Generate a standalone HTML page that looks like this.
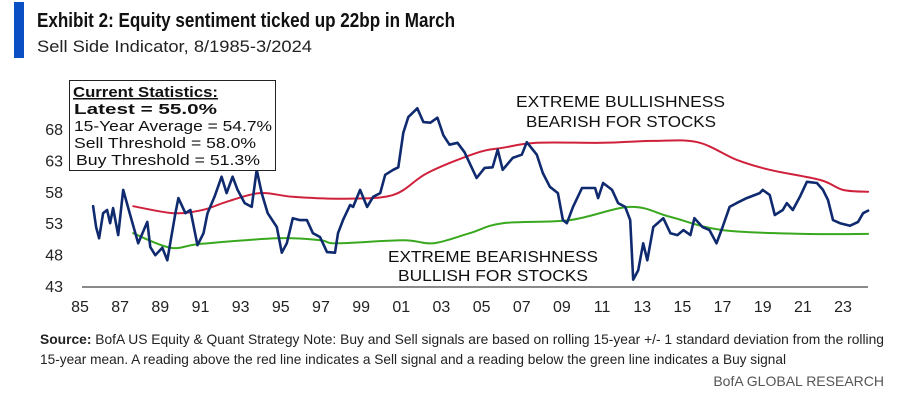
<!DOCTYPE html>
<html><head><meta charset="utf-8"><style>
html,body{margin:0;padding:0;background:#fff;width:914px;height:403px;overflow:hidden}
svg{display:block;font-family:"Liberation Sans Narrow","Liberation Sans",sans-serif}
</style></head><body>
<svg id="chart" width="914" height="403" viewBox="0 0 914 403">
<rect x="14" y="2" width="10" height="56" fill="#0a4fc4"/>
<text x="37" y="27" font-size="20" font-weight="bold" fill="#111" textLength="418" lengthAdjust="spacingAndGlyphs">Exhibit 2: Equity sentiment ticked up 22bp in March</text>
<text x="37" y="52" font-size="17" fill="#222" textLength="275" lengthAdjust="spacingAndGlyphs">Sell Side Indicator, 8/1985-3/2024</text>
<g id="yaxis"></g>
<g id="xaxis"></g>
<g id="series"></g>
<g>
<rect x="69.5" y="80.5" width="206" height="90" fill="#fff" stroke="#222" stroke-width="1"/>
<text x="73" y="97" font-size="15" font-weight="bold" fill="#111" text-decoration="underline" textLength="145" lengthAdjust="spacingAndGlyphs">Current Statistics:</text>
<text x="74" y="114" font-size="15" font-weight="bold" fill="#111" textLength="143" lengthAdjust="spacingAndGlyphs">Latest = 55.0%</text>
<text x="74" y="131" font-size="15" fill="#111" textLength="198" lengthAdjust="spacingAndGlyphs">15-Year Average = 54.7%</text>
<text x="74" y="148" font-size="15" fill="#111" textLength="182" lengthAdjust="spacingAndGlyphs">Sell Threshold = 58.0%</text>
<text x="76" y="165" font-size="15" fill="#111" textLength="184" lengthAdjust="spacingAndGlyphs">Buy Threshold = 51.3%</text>
</g>
<text x="516" y="107" font-size="16" fill="#111" textLength="209" lengthAdjust="spacingAndGlyphs">EXTREME BULLISHNESS</text>
<text x="526" y="127" font-size="16" fill="#111" textLength="190" lengthAdjust="spacingAndGlyphs">BEARISH FOR STOCKS</text>
<text x="388" y="262" font-size="16" fill="#111" textLength="210" lengthAdjust="spacingAndGlyphs">EXTREME BEARISHNESS</text>
<text x="398" y="281" font-size="16" fill="#111" textLength="190" lengthAdjust="spacingAndGlyphs">BULLISH FOR STOCKS</text>
<text x="40" y="344" font-size="14" fill="#222" textLength="844" lengthAdjust="spacingAndGlyphs"><tspan font-weight="bold">Source:</tspan> BofA US Equity &amp; Quant Strategy Note: Buy and Sell signals are based on rolling 15-year +/- 1 standard deviation from the rolling</text>
<text x="40" y="364" font-size="14" fill="#222" textLength="746" lengthAdjust="spacingAndGlyphs">15-year mean. A reading above the red line indicates a Sell signal and a reading below the green line indicates a Buy signal</text>
<text x="884" y="386" font-size="14" fill="#555" text-anchor="end">BofA GLOBAL RESEARCH</text>
</svg>
<script>
const yTicks = [43, 48, 53, 58, 63, 68];
const xTickLabels = ["85","87","89","91","93","95","97","99","01","03","05","07","09","11","13","15","17","19","21","23"];
const xTickYears = [1985,1987,1989,1991,1993,1995,1997,1999,2001,2003,2005,2007,2009,2011,2013,2015,2017,2019,2021,2023];
const sentimentYears = [1985.65,1985.8,1985.95,1986.15,1986.35,1986.5,1986.65,1986.9,1987.15,1987.5,1987.9,1988.35,1988.5,1988.75,1989.1,1989.35,1989.75,1989.9,1990.25,1990.5,1990.85,1991.15,1991.35,1991.7,1992.05,1992.3,1992.6,1992.85,1993.2,1993.55,1993.8,1994.05,1994.35,1994.8,1995.05,1995.3,1995.6,1995.95,1996.3,1996.6,1996.95,1997.3,1997.7,1997.85,1998.1,1998.45,1998.6,1998.95,1999.3,1999.6,1999.95,2000.2,2000.6,2000.85,2001.1,2001.35,2001.8,2002.1,2002.45,2002.8,2003.1,2003.4,2003.8,2004.15,2004.5,2004.75,2005.15,2005.55,2005.8,2006.05,2006.55,2007.0,2007.25,2007.75,2008.05,2008.4,2008.8,2009.05,2009.25,2009.55,2010.0,2010.65,2010.8,2011.05,2011.5,2011.8,2012.15,2012.4,2012.55,2012.8,2013.05,2013.25,2013.55,2014.05,2014.4,2014.75,2015.05,2015.4,2015.6,2016.0,2016.35,2016.7,2017.0,2017.35,2017.7,2018.2,2018.85,2019.0,2019.35,2019.6,2020.0,2020.2,2020.5,2020.85,2021.2,2021.7,2022.0,2022.25,2022.5,2022.85,2023.35,2023.75,2024.0,2024.25];
const sentimentValues = [55.7,52.4,50.6,54.6,55.1,53.0,55.4,51.1,58.3,54.3,49.8,53.2,49.2,47.9,49.1,47.1,54.6,57.0,54.6,55.1,49.5,51.4,54.6,57.2,60.4,57.8,60.4,58.3,56.2,55.6,61.5,57.8,54.6,52.4,48.3,49.8,53.8,53.5,53.5,51.4,50.8,48.4,48.3,51.4,53.5,55.9,55.6,58.3,55.6,57.2,57.8,60.7,61.5,61.9,67.4,69.9,71.3,69.1,69.0,69.8,67.0,65.5,65.8,64.3,61.9,60.2,61.8,61.9,64.7,61.5,63.4,63.9,65.9,63.9,61.0,58.8,57.8,53.5,53.0,55.6,58.6,58.6,57.0,59.4,58.3,56.2,55.6,53.5,44.0,45.5,49.8,47.1,52.4,53.8,51.4,51.1,51.9,51.1,53.8,52.4,51.9,49.8,52.4,55.6,56.2,57.0,57.8,58.3,57.5,54.3,55.1,56.2,55.1,57.2,59.6,59.4,58.3,56.7,53.5,53.0,52.6,53.2,54.6,55.0];
const sellYears = [1987.65,1989.65,1991.1,1992.3,1993.95,1995.6,1998.1,2000.6,2002.3,2004.75,2006.05,2007.75,2011.05,2013.55,2015.75,2017.7,2019.35,2021.85,2023.0,2024.25];
const sellValues = [55.7,54.6,55.1,56.4,57.8,57.2,56.9,57.5,61.0,64.2,65.0,65.8,65.8,66.1,65.9,63.1,61.5,59.9,58.3,58.0];
const buyYears = [1987.65,1989.5,1991.0,1994.8,1996.95,1997.8,2001.1,2002.6,2004.4,2006.05,2009.4,2012.4,2014.4,2017.0,2021.0,2024.25];
const buyValues = [51.4,49.1,49.7,50.6,50.3,49.8,50.3,49.8,51.4,53.0,53.5,55.6,54.0,51.9,51.3,51.3];

const NS = "http://www.w3.org/2000/svg";
const xS = yr => 80 + (yr - 1985) * 20.08;
const yS = v => 286 - (v - 43) * 6.28;
function mk(tag, attrs, parent){const e=document.createElementNS(NS,tag);for(const k in attrs)e.setAttribute(k,attrs[k]);parent.appendChild(e);return e;}

const ya = document.getElementById('yaxis');
yTicks.forEach(v=>{
  const t = mk('text',{x:63,y:yS(v)+6,'font-size':16,fill:'#222','text-anchor':'end'},ya);
  t.textContent = v;
  
  
});
const xa = document.getElementById('xaxis');
const base = mk('line',{x1:82,y1:287,x2:868,y2:287,stroke:'#444','stroke-width':1.2},xa);


xTickLabels.forEach((l,i)=>{
  const t = mk('text',{x:xS(xTickYears[i]),y:312,'font-size':16,fill:'#222','text-anchor':'middle'},xa);
  t.textContent = l;
  
  
});
const sg = document.getElementById('series');
function pathD(xs, vs, smooth){
  const P = xs.map((x,i)=>[xS(x), yS(vs[i])]);
  if(!smooth) return P.map((p,i)=>(i?'L':'M')+p[0].toFixed(1)+','+p[1].toFixed(1)).join('');
  let d = 'M'+P[0][0].toFixed(1)+','+P[0][1].toFixed(1);
  for(let i=0;i<P.length-1;i++){
    const p0=P[Math.max(0,i-1)],p1=P[i],p2=P[i+1],p3=P[Math.min(P.length-1,i+2)];
    const c1=[p1[0]+(p2[0]-p0[0])/6,p1[1]+(p2[1]-p0[1])/6];
    const c2=[p2[0]-(p3[0]-p1[0])/6,p2[1]-(p3[1]-p1[1])/6];
    d+='C'+c1.map(n=>n.toFixed(1)).join(',')+' '+c2.map(n=>n.toFixed(1)).join(',')+' '+p2.map(n=>n.toFixed(1)).join(',');
  }
  return d;
}
function line(xs, vs, color, w, name, smooth){
  const p = mk('path',{d:pathD(xs,vs,smooth),fill:'none',stroke:color,'stroke-width':w,'stroke-linejoin':'round','stroke-linecap':'round'},sg);
  
  
}
line(sellYears, sellValues, '#d0213c', 2, 'sell-threshold-line', true);
line(buyYears, buyValues, '#3aa81f', 2, 'buy-threshold-line', true);
line(sentimentYears, sentimentValues, '#0f2a6e', 2.6, 'sell-side-indicator-line', false);
</script>
</body></html>
